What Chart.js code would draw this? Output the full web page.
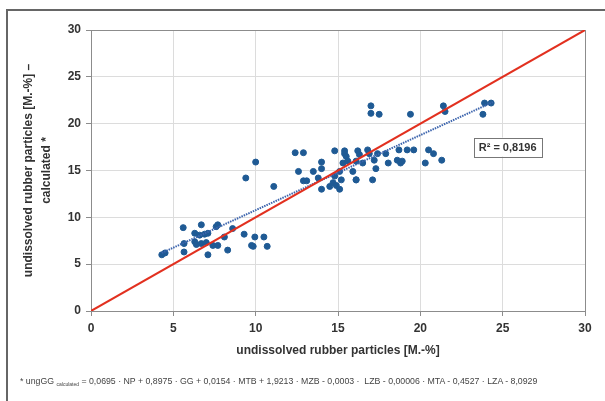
<!DOCTYPE html>
<html>
<head>
<meta charset="utf-8">
<script src="https://cdn.jsdelivr.net/npm/chart.js@4.4.0/dist/chart.umd.min.js"></script>
<style>
  html, body { margin: 0; padding: 0; background: #fff; }
  #wrap { position: relative; width: 605px; height: 401px; overflow: hidden; }
  #frame { position: absolute; left: 6px; top: 9px; right: -4px; bottom: -4px; border-left: 2px solid #666; border-top: 2px solid #666; }
  #chart { position: absolute; left: 0; top: 0; }
  #note { position: absolute; left: 20px; top: 376px; font: 8.75px "Liberation Sans", Arial, sans-serif; color: #444; white-space: nowrap; }
  #note sub { font-size: 5px; vertical-align: -2px; }
</style>
</head>
<body>
<div id="wrap">
  <div id="frame"></div>
  <canvas id="chart" width="605" height="401"></canvas>
  <div id="note">* ungGG <sub>calculated</sub> = 0,0695 · NP + 0,8975 · GG + 0,0154 · MTB + 1,9213 · MZB - 0,0003 · &nbsp;LZB - 0,00006 · MTA - 0,4527 · LZA - 8,0929</div>
</div>
<script>
const measuredVals = [
  4.3, 4.5, 5.6, 5.65, 5.65, 6.3, 6.7, 6.3, 6.4, 6.6, 6.9, 7.1, 6.7, 7.0, 7.1, 7.4, 7.7, 7.6, 7.7, 8.1,
  8.3, 8.6, 9.3, 9.75, 9.85, 9.95, 10.5, 10.7,
  9.4, 10.0, 11.1, 12.4, 12.9, 12.6, 13.5, 14.0, 14.0, 14.8, 12.9, 13.1, 13.8, 14.0, 14.5, 14.7, 14.9, 15.1,
  15.2, 14.8, 15.1, 15.9, 16.1, 15.4, 15.4, 15.5, 16.2, 16.3, 16.8, 16.9, 17.4, 17.9, 18.7, 19.2, 19.6,
  20.5, 20.8, 21.3, 20.3, 18.05, 18.6, 18.8, 18.9, 17.2, 17.3, 16.5, 16.1, 15.3, 15.6, 17.1, 16.1,
  17.0, 17.0, 17.5, 19.4, 21.4, 21.5, 23.9, 24.3, 23.8
];
const calculatedVals = [
  6.0, 6.2, 8.9, 7.2, 6.3, 8.3, 9.2, 7.4, 7.1, 8.1, 8.2, 8.3, 7.2, 7.3, 6.0, 7.0, 7.0, 9.0, 9.2, 7.9,
  6.5, 8.8, 8.2, 7.0, 6.9, 7.9, 7.9, 6.9,
  14.2, 15.9, 13.3, 16.9, 16.9, 14.9, 14.9, 15.9, 15.2, 17.1, 13.9, 13.9, 14.2, 13.0, 13.3, 13.7, 13.4, 13.0,
  14.0, 14.4, 14.9, 14.9, 14.0, 17.1, 16.8, 16.5, 17.1, 16.7, 17.2, 16.8, 16.8, 16.8, 17.2, 17.2, 17.2,
  17.2, 16.8, 16.1, 15.8, 15.8, 16.1, 15.8, 16.0, 16.1, 15.2, 15.8, 16.0, 15.8, 16.0, 14.0, 14.0,
  21.9, 21.1, 21.0, 21.0, 21.9, 21.3, 22.2, 22.2, 21.0
];
const trendX = [4.3, 24.4];
const trendY = [6.2, 22.3];
const identityVals = [0, 30];
const axisTicks = [0, 5, 10, 15, 20, 25, 30];
const rSquaredText = 'R² = 0,8196';
const rSquaredPos = [25.3, 17.5];

const toXY = (xs, ys) => xs.map((x, i) => ({ x, y: ys[i] }));

const frameBox = {
  id: 'frameBox',
  beforeDatasetsDraw(chart) {
    const { ctx, chartArea: a } = chart;
    ctx.save();
    ctx.strokeStyle = '#8c8c8c';
    ctx.lineWidth = 1;
    ctx.strokeRect(a.left + 0.5, a.top + 0.5, a.right - a.left, a.bottom - a.top);
    ctx.restore();
  }
};

const rLabel = {
  id: 'rLabel',
  afterDatasetsDraw(chart) {
    const { ctx, scales } = chart;
    const cx = scales.x.getPixelForValue(rSquaredPos[0]);
    const cy = scales.y.getPixelForValue(rSquaredPos[1]);
    ctx.save();
    ctx.font = 'bold 11px "Liberation Sans", Arial, sans-serif';
    const w = ctx.measureText(rSquaredText).width + 10;
    const h = 19;
    ctx.fillStyle = '#fff';
    ctx.fillRect(cx - w / 2, cy - h / 2, w, h);
    ctx.strokeStyle = '#777';
    ctx.lineWidth = 1;
    ctx.strokeRect(Math.round(cx - w / 2) + 0.5, Math.round(cy - h / 2) + 0.5, Math.round(w), h);
    ctx.fillStyle = '#333';
    ctx.textAlign = 'center';
    ctx.textBaseline = 'middle';
    ctx.fillText(rSquaredText, cx, cy + 1);
    ctx.restore();
  }
};

const axisFont = { family: '"Liberation Sans", Arial, sans-serif', size: 12, weight: 'bold' };

new Chart(document.getElementById('chart'), {
  type: 'scatter',
  data: {
    datasets: [
      {
        label: 'y = x',
        type: 'line',
        data: toXY(identityVals, identityVals),
        borderColor: '#e2301f',
        borderWidth: 2,
        pointRadius: 0,
        order: 0
      },
      {
        label: 'trend',
        type: 'line',
        data: toXY(trendX, trendY),
        borderColor: '#3c64ad',
        borderWidth: 2,
        borderDash: [1.5, 1],
        pointRadius: 0,
        order: 1
      },
      {
        label: 'values',
        data: toXY(measuredVals, calculatedVals),
        backgroundColor: '#1f5a94',
        borderColor: '#1f5a94',
        pointRadius: 3,
        order: 2
      }
    ]
  },
  options: {
    responsive: false,
    animation: false,
    layout: { padding: { left: 14, right: 20, top: 30, bottom: 35 } },
    plugins: { legend: { display: false }, tooltip: { enabled: false } },
    scales: {
      x: {
        type: 'linear', min: 0, max: 30,
        afterBuildTicks: s => { s.ticks = axisTicks.map(v => ({ value: v })); },
        afterFit: s => { s.height = 55; },
        grid: { color: '#dcdcdc', tickColor: '#8c8c8c', tickLength: 5 },
        border: { color: '#8c8c8c' },
        ticks: { color: '#333', font: axisFont, padding: 5, maxRotation: 0 },
        title: { display: true, text: 'undissolved rubber particles [M.-%]', color: '#333', font: axisFont, padding: { top: 0, bottom: 8 } }
      },
      y: {
        type: 'linear', min: 0, max: 30,
        afterBuildTicks: s => { s.ticks = axisTicks.map(v => ({ value: v })); },
        afterFit: s => { s.width = 77; },
        grid: { color: '#dcdcdc', tickColor: '#8c8c8c', tickLength: 5 },
        border: { color: '#8c8c8c' },
        ticks: { color: '#333', font: axisFont, padding: 5 },
        title: { display: true, text: ['undissolved rubber particles [M.-%] –', 'calculated *'], color: '#333', font: { ...axisFont, lineHeight: 1.5 }, padding: { top: 6, bottom: 0 } }
      }
    }
  },
  plugins: [frameBox, rLabel]
});
</script>
</body>
</html>
